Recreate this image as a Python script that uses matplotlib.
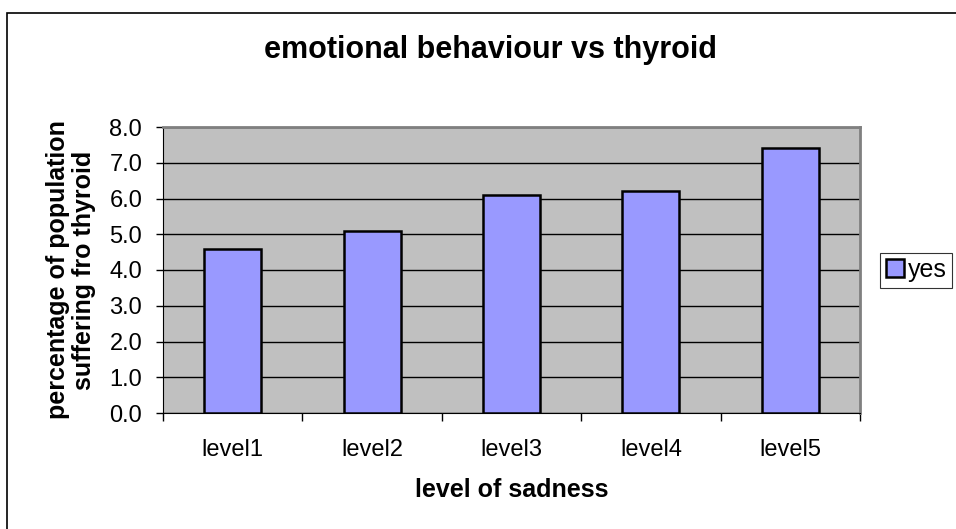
import matplotlib
matplotlib.use("Agg")
import matplotlib.pyplot as plt
from matplotlib.patches import Rectangle

plt.rcParams['font.family'] = ['Liberation Sans', 'DejaVu Sans']

levels = ['level1', 'level2', 'level3', 'level4', 'level5']
yes = [4.6, 5.1, 6.1, 6.2, 7.4]

fig = plt.figure(figsize=(9.56, 5.29), dpi=100)
# outer chart border
fig.patches.append(Rectangle((7/956, -0.05), 1.2, 1 - 13/529 + 0.05,
                             transform=fig.transFigure, fill=False,
                             edgecolor='black', linewidth=1.2))

ax = fig.add_axes([163/956, 1 - 413/529, 697/956, 286/529])
ax.set_facecolor('#c0c0c0')
x = range(len(levels))
ax.bar(x, yes, width=0.41, color='#9999ff', edgecolor='black', linewidth=1.8,
       label='yes', zorder=3)

ax.set_xlim(-0.5, 4.5)
ax.set_ylim(0, 8)
ax.set_yticks([i for i in range(9)])
ax.set_yticklabels(['%.1f' % i for i in range(9)], fontsize=17)
ax.yaxis.grid(True, color='black', linewidth=1.0, zorder=1)

ax.set_xticks(list(x))
ax.set_xticklabels(levels, fontsize=17)
ax.tick_params(axis='x', length=0, pad=19)
ax.set_xticks([i + 0.5 for i in range(-1, 5)], minor=True)
ax.tick_params(axis='x', which='minor', length=6, width=1, direction='out')
ax.tick_params(axis='y', length=5, width=1, direction='out', pad=10)

for side in ['top', 'right']:
    ax.spines[side].set_color('#808080')
    ax.spines[side].set_linewidth(2)
ax.spines['left'].set_color('black')
ax.spines['bottom'].set_color('black')

fig.text(491/956, 1 - 50/529, 'emotional behaviour vs thyroid', ha='center', va='center',
         fontsize=22, fontweight='bold')
ax.set_xlabel('level of sadness', fontsize=18, fontweight='bold', va='center')
ax.xaxis.set_label_coords(0.5, -77/286)
ax.set_ylabel('percentage of population\nsuffering fro thyroid', fontsize=18,
              fontweight='bold', linespacing=1.1, va='center')
ax.yaxis.set_label_coords(-92/697, 0.5)

leg = ax.legend(loc='center left', bbox_to_anchor=(1.0287, 0.5), fontsize=18,
                frameon=True, fancybox=False, edgecolor='black',
                handlelength=0.75, handleheight=0.75, handletextpad=0.15,
                borderpad=0.22, borderaxespad=0)
leg.get_frame().set_linewidth(0.8)

fig.savefig('out.png', dpi=100)
